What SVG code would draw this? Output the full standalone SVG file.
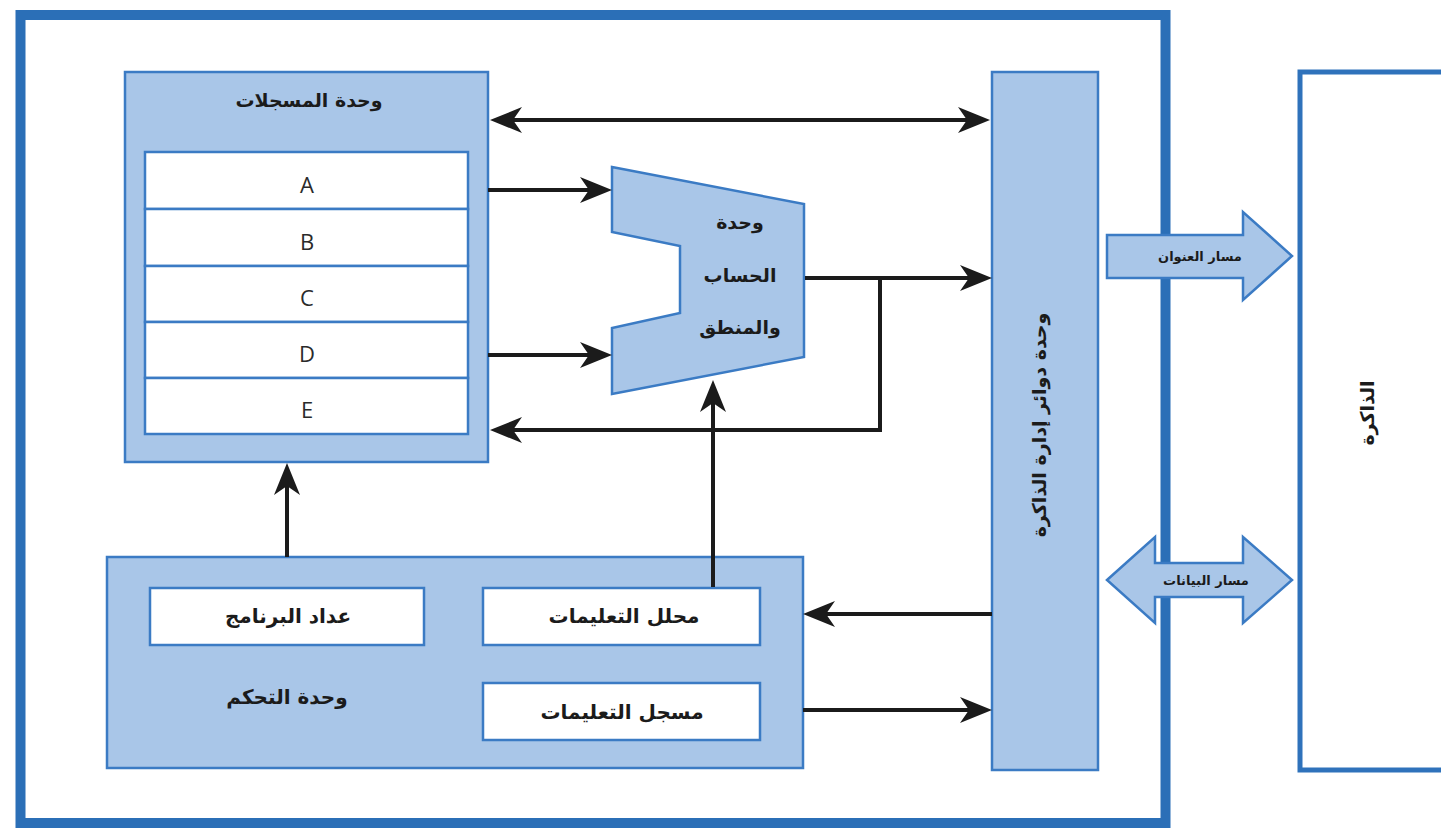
<svg xmlns="http://www.w3.org/2000/svg" width="1441" height="830" viewBox="0 0 1441 830">
<style>
.box{fill:#a9c6e8;stroke:#3b7bc4;stroke-width:2.5}
.wbox{fill:#ffffff;stroke:#3b7bc4;stroke-width:2.5}
.ar{font-family:"DejaVu Sans","Noto Sans",sans-serif;font-weight:bold;fill:#1b1b1b;text-anchor:middle;dominant-baseline:central}
.lt{font-family:"Open Sans","Liberation Sans",sans-serif;font-size:22px;fill:#2a2a2a;text-anchor:middle;dominant-baseline:central}
.ln{fill:none;stroke:#1b1b1b;stroke-width:4}
.arw{fill:none;stroke:#1b1b1b;stroke-width:4;marker-end:url(#ah)}
.arw2{fill:none;stroke:#1b1b1b;stroke-width:4;marker-end:url(#ah);marker-start:url(#ah)}
</style>
<defs>
<marker id="ah" viewBox="0 0 32 26" refX="22" refY="13" markerWidth="32" markerHeight="26" markerUnits="userSpaceOnUse" orient="auto-start-reverse">
<path d="M0,0 L32,13 L0,26 L9,13 Z" fill="#1b1b1b"/>
</marker>
</defs>
<rect width="1441" height="830" fill="#ffffff"/>

<rect id="frame" x="20.5" y="15" width="1145" height="808" fill="none" stroke="#2b6fb7" stroke-width="10"/>

<g id="memory">
<rect x="1300" y="72" width="200" height="698" fill="#ffffff" stroke="#2f72bb" stroke-width="5"/>
<text class="ar" font-size="19" transform="translate(1367,413) rotate(-90)">الذاكرة</text>
</g>

<g id="address-bus">
<polygon class="box" points="1107,235 1243,235 1243,212 1292,256 1243,300 1243,278 1107,278"/>
<text class="ar" font-size="13" x="1200" y="256">مسار العنوان</text>
</g>

<g id="data-bus">
<polygon class="box" points="1107,580 1155,537 1155,563 1243,563 1243,537 1292,580 1243,623 1243,597 1155,597 1155,623"/>
<text class="ar" font-size="13" x="1206" y="580">مسار البيانات</text>
</g>

<g id="register-unit">
<rect class="box" x="125" y="72" width="363" height="390"/>
<text class="ar" font-size="19" x="309" y="100">وحدة المسجلات</text>
<rect class="wbox" x="145" y="152" width="323" height="57"/>
<rect class="wbox" x="145" y="209" width="323" height="57"/>
<rect class="wbox" x="145" y="266" width="323" height="56"/>
<rect class="wbox" x="145" y="322" width="323" height="56"/>
<rect class="wbox" x="145" y="378" width="323" height="56"/>
<text class="lt" x="307" y="184">A</text>
<text class="lt" x="307" y="241">B</text>
<text class="lt" x="307" y="297">C</text>
<text class="lt" x="307" y="353">D</text>
<text class="lt" x="307" y="409">E</text>
</g>

<g id="alu">
<polygon class="box" points="612,167 804,204 804,357 612,394 612,328 680,313 680,246 612,232"/>
<text class="ar" font-size="19" x="740" y="222">وحدة</text>
<text class="ar" font-size="19" x="740" y="275">الحساب</text>
<text class="ar" font-size="19" x="740" y="327">والمنطق</text>
</g>

<g id="mmu">
<rect class="box" x="992" y="72" width="106" height="698"/>
<text class="ar" font-size="19" transform="translate(1039,425) rotate(-90)">وحدة دوائر إدارة الذاكرة</text>
</g>

<g id="control-unit">
<rect class="box" x="107" y="557" width="696" height="211"/>
<text class="ar" font-size="20" x="287" y="697">وحدة التحكم</text>
</g>
<g id="program-counter">
<rect class="wbox" x="150" y="588" width="274" height="57"/>
<text class="ar" font-size="20" x="288" y="616">عداد البرنامج</text>
</g>
<g id="instruction-decoder">
<rect class="wbox" x="483" y="588" width="277" height="57"/>
<text class="ar" font-size="20" x="624" y="616">محلل التعليمات</text>
</g>
<g id="instruction-register">
<rect class="wbox" x="483" y="683" width="277" height="57"/>
<text class="ar" font-size="20" x="622" y="712">مسجل التعليمات</text>
</g>

<g id="connectors">
<path class="arw2" d="M500,120 L980,120"/>
<path class="arw" d="M488,190 L602,190"/>
<path class="arw" d="M488,355 L602,355"/>
<path class="arw" d="M805,278 L982,278"/>
<path class="ln" d="M880,278 L880,430 L510,430"/>
<path class="arw" d="M880,430 L500,430" stroke="none"/>
<path class="arw" d="M287,557 L287,473"/>
<path class="arw" d="M713,587 L713,390"/>
<path class="arw" d="M992,614 L813,614"/>
<path class="arw" d="M803,710 L982,710"/>
</g>
</svg>
